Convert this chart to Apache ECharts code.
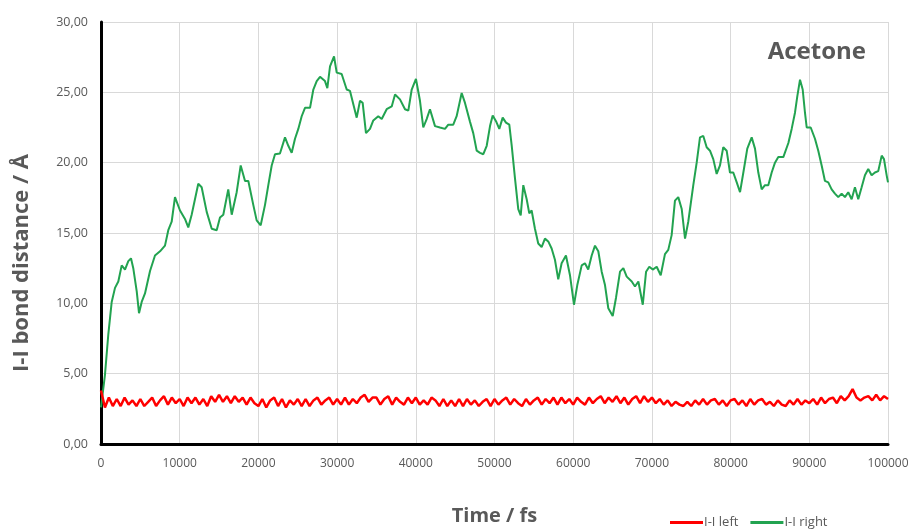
<!DOCTYPE html>
<html>
<head>
<meta charset="utf-8">
<script src="https://cdn.jsdelivr.net/npm/echarts@6/dist/echarts.min.js"></script>
<style>html,body{margin:0;padding:0;background:#fff;}#c{width:912px;height:531px;}</style>
</head>
<body>
<div id="c"></div>
<script>
const chartTitle = 'Acetone';
const xAxisName = 'Time / fs';
const yAxisName = 'I-I bond distance / Å';
const seriesNames = ['I-I left', 'I-I right'];
const xTicks = [0, 10000, 20000, 30000, 40000, 50000, 60000, 70000, 80000, 90000, 100000];
const yTickLabels = ['0,00', '5,00', '10,00', '15,00', '20,00', '25,00', '30,00'];

const greenTime = [0,500,930,1360,1780,2200,2630,3050,3470,3810,4100,4540,4830,5170,5590,6230,6860,7500,8130,8550,8980,9400,10040,10670,11090,11520,12360,12790,13430,14070,14700,15120,15540,16170,16610,17240,17750,18300,18720,19350,19780,20290,20840,21260,21690,22110,22740,23380,23800,24230,24650,25070,25500,25920,26560,26980,27410,27830,28460,28760,29100,29610,29950,30580,31220,31640,32490,32910,33250,33670,34180,34600,35230,35670,36300,36940,37360,37990,38630,39050,39480,40020,40530,40950,41380,41800,42440,43070,43710,44130,44760,45190,45830,46250,46890,47300,47740,48160,48580,49010,49430,49770,50190,50610,51040,51460,51880,52190,52610,53020,53330,53660,54090,54420,54720,55140,55560,55990,56410,56830,57260,57680,58100,58530,59080,59590,60100,60520,61080,61490,61910,62350,62770,63190,63620,64040,64460,65020,65440,65950,66370,66800,67440,67850,68280,68840,69260,69670,70110,70610,71120,71660,72080,72510,72930,73350,73790,74210,74620,75260,75690,76110,76530,76960,77380,77800,78230,78650,79070,79500,79920,80340,80780,81200,81620,82120,82680,83100,83520,83950,84370,84790,85220,85640,86060,86700,87340,87760,88180,88470,88820,89160,89450,89670,90180,90720,91140,91570,91990,92410,92840,93260,93680,94110,94530,94950,95380,95800,96220,96650,97070,97490,97920,98340,98760,99200,99490,99830,100000];
const greenValue = [2.6,4.9,7.8,10.1,11.1,11.55,12.7,12.4,13.0,13.2,12.5,10.85,9.3,10.1,10.7,12.3,13.4,13.7,14.1,15.2,15.8,17.55,16.6,16.0,15.4,16.3,18.5,18.25,16.5,15.3,15.2,16.1,16.3,18.1,16.3,17.9,19.8,18.7,18.7,17.0,15.9,15.55,17.0,18.4,19.8,20.6,20.65,21.8,21.2,20.7,21.7,22.4,23.3,23.9,23.9,25.2,25.8,26.1,25.8,25.3,26.85,27.55,26.4,26.3,25.2,25.1,23.2,24.4,24.25,22.1,22.4,23.0,23.3,23.1,23.8,24.0,24.85,24.5,23.8,23.7,25.2,25.95,24.4,22.5,23.1,23.8,22.6,22.5,22.4,22.7,22.7,23.3,24.95,24.25,22.9,22.1,20.85,20.7,20.6,21.2,22.6,23.35,22.95,22.4,23.2,22.85,22.7,21.2,18.85,16.7,16.25,18.4,17.4,16.4,16.6,15.3,14.25,14.0,14.6,14.4,13.9,13.1,11.7,12.85,13.4,12.0,9.9,11.3,12.7,12.85,12.4,13.4,14.1,13.7,12.25,11.3,9.65,9.1,10.4,12.25,12.5,11.9,11.55,11.2,11.55,9.9,12.25,12.6,12.4,12.6,12.0,13.5,13.8,14.85,17.3,17.55,16.7,14.6,15.8,18.4,20.0,21.8,21.9,21.1,20.85,20.25,19.2,19.8,21.1,20.85,19.3,19.3,18.6,17.9,19.3,21.0,21.8,21.0,19.3,18.1,18.4,18.4,19.3,20.0,20.4,20.4,21.4,22.4,23.55,24.7,25.9,25.2,23.55,22.5,22.5,21.7,20.85,19.8,18.7,18.6,18.1,17.8,17.55,17.8,17.55,17.9,17.4,18.25,17.4,18.25,19.1,19.55,19.1,19.3,19.4,20.5,20.25,19.1,18.6];

const redStep = 500;
const redValue = [
3.8,2.6,3.3,2.7,3.2,2.7,3.3,2.8,3.1,2.7,
3.2,2.7,3.0,3.3,2.7,3.1,3.4,2.8,3.3,2.9,
3.2,2.7,3.3,2.9,3.3,2.8,3.2,2.7,3.4,3.0,
3.5,3.0,3.4,2.9,3.4,3.0,3.3,2.8,3.3,2.9,
2.7,3.2,2.6,3.1,3.3,2.7,3.2,2.6,3.1,2.8,
3.2,2.7,3.2,2.7,3.1,3.3,2.8,3.1,3.3,2.8,
3.2,2.8,3.3,2.8,3.2,2.9,3.3,3.5,3.0,3.3,
3.3,2.8,3.2,3.4,2.8,3.3,3.0,2.8,3.3,2.9,
3.3,2.8,3.1,2.8,3.3,3.1,2.7,3.2,2.7,3.1,
2.7,3.2,2.7,3.2,2.8,3.1,2.7,3.0,3.2,2.7,
3.2,2.8,3.1,3.3,2.8,3.2,2.9,2.7,3.2,2.8,
3.1,3.3,2.8,3.2,2.9,3.3,2.8,3.3,2.9,3.2,
2.8,3.3,3.0,2.8,3.3,2.9,3.2,3.4,2.9,3.3,
3.0,3.4,2.9,3.3,2.8,3.2,3.4,2.9,3.4,3.0,
3.3,2.9,3.2,2.8,3.1,2.7,3.0,2.8,2.7,3.0,
2.7,3.1,2.8,3.2,2.8,3.1,3.2,2.8,3.1,2.7,
3.1,3.2,2.8,3.1,2.7,3.2,2.8,3.1,3.2,2.8,
3.0,2.7,3.1,2.8,2.7,3.1,2.8,3.2,2.8,3.1,
2.9,3.2,2.8,3.3,2.9,3.2,3.3,2.9,3.4,3.1,
3.4,3.9,3.3,3.1,3.3,3.4,3.1,3.5,3.1,3.4,
3.2];

const redData = redValue.map((v, i) => [i * redStep, v]);
const greenData = greenTime.map((t, i) => [t, greenValue[i]]);

const textColor = '#595959';
const chart = echarts.init(document.getElementById('c'));
chart.setOption({
  animation: false,
  backgroundColor: '#ffffff',
  title: {
    text: chartTitle, right: 41, top: 35,
    textStyle: { fontFamily: 'Open Sans', fontSize: 24, fontWeight: 'bold', color: textColor }
  },
  legend: {
    data: seriesNames, left: 665, top: 511, itemGap: 12,
    icon: 'rect', itemWidth: 33, itemHeight: 3,
    textStyle: { fontFamily: 'Open Sans', fontSize: 13, color: textColor, padding: [0, 0, 0, -4] }
  },
  grid: { left: 101, right: 24, top: 22, bottom: 84 },
  xAxis: {
    type: 'value', min: 0, max: 100000, interval: 10000,
    name: xAxisName, nameLocation: 'middle', nameGap: 62,
    nameTextStyle: { fontFamily: 'Open Sans', fontSize: 20, fontWeight: 'bold', color: textColor },
    axisLine: { show: true, lineStyle: { color: '#000', width: 3 } },
    axisTick: { show: false },
    axisLabel: { fontFamily: 'Open Sans', fontSize: 12, color: textColor, margin: 14,
      formatter: v => xTicks.indexOf(v) >= 0 ? String(v) : '' },
    splitLine: { show: true, lineStyle: { color: '#d9d9d9', width: 1 } }
  },
  yAxis: {
    type: 'value', min: 0, max: 30, interval: 5,
    name: yAxisName, nameLocation: 'middle', nameGap: 68, nameRotate: 90,
    nameTextStyle: { fontFamily: 'Open Sans', fontSize: 22, fontWeight: 'bold', color: textColor,
      padding: [0, 60, 0, 0] },
    axisLine: { show: true, lineStyle: { color: '#000', width: 3 } },
    axisTick: { show: false },
    axisLabel: { fontFamily: 'Open Sans', fontSize: 12.5, color: textColor, margin: 13,
      formatter: v => yTickLabels[Math.round(v / 5)] },
    splitLine: { show: true, lineStyle: { color: '#d9d9d9', width: 1 } }
  },
  series: [
    { name: seriesNames[0], type: 'line', data: redData, showSymbol: false, symbol: 'none',
      itemStyle: { color: '#ff0000' }, lineStyle: { color: '#ff0000', width: 2.5 }, z: 3 },
    { name: seriesNames[1], type: 'line', data: greenData, showSymbol: false, symbol: 'none',
      itemStyle: { color: '#22a350' }, lineStyle: { color: '#22a350', width: 2 }, z: 2 }
  ]
});
</script>
</body>
</html>
